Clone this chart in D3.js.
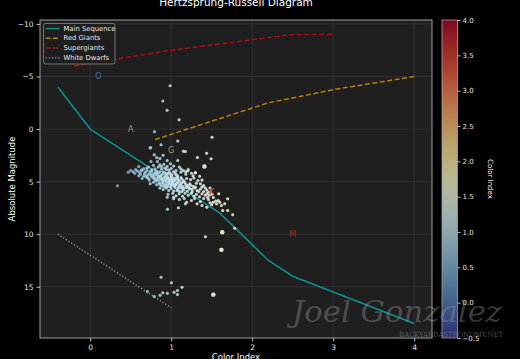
<!DOCTYPE html>
<html><head><meta charset="utf-8">
<script src="https://cdn.jsdelivr.net/npm/d3@7"></script>
<style>html,body{margin:0;padding:0;background:#000;}svg{display:block;}</style>
</head><body>
<script>
// ---- data ----
const msColor = [-0.4, 0.0, 1.6, 2.2, 2.5, 4.0];
const msMag   = [-4, 0, 8, 12.5, 14, 18.5];
const rgColor = [0.8, 2.2, 3.0, 4.0];
const rgMag   = [1, -2.5, -3.75, -5];
const sgColor = [-0.2, 1.0, 2.0, 2.5, 3.0];
const sgMag   = [-6, -7.5, -8.5, -9, -9];
const wdColor = [-0.4, 1.0];
const wdMag   = [10, 17];
const classLabels = ["O", "A", "G", "K", "M"];
const classColor  = [0.1, 0.5, 1.0, 1.5, 2.5];
const classMag    = [-5, 0, 2, 6, 10];
const classFill   = ["#3f6fb5", "#9a9a9a", "#a59d6c", "#c87a45", "#a52a2a"];
const xTicks = [0, 1, 2, 3, 4];
const yTicks = [-10, -5, 0, 5, 10, 15];
const cbTicks = [-0.5, 0, 0.5, 1, 1.5, 2, 2.5, 3, 3.5, 4];
const bigStars = [[1.41,3.56],[1.63,9.81],[1.52,15.75],[1.62,11.49]];
const stars = [
 // outliers / upper
 [0.986,-4.13],[0.896,-2.67],[0.949,-1.78],[1.097,-0.89],[0.793,0.25],[1.081,1.14],[0.875,1.49],[0.744,1.75],
 [1.504,0.79],[1.175,2.13],[1.323,2.70],[1.438,2.29],[1.492,2.83],[0.337,5.40],[1.204,4.0],[1.295,4.16],
 [0.74,1.81],[0.79,2.44],[0.90,2.50],[1.15,2.12],[1.08,2.98],
 // lower right
 [1.587,6.16],[1.697,6.63],[1.697,7.75],[1.759,8.16],[1.636,7.75],[1.784,9.43],[1.422,10.25],[1.619,11.49],
 [0.954,7.62],[1.089,7.49],[1.175,7.11],
 // white dwarf group
 [0.875,14.10],[1.003,14.63],[1.134,15.05],[1.077,15.36],[1.036,15.52],[1.077,15.74],[0.953,15.62],[0.896,15.58],[0.863,15.81],[0.707,15.46],[0.79,15.93],
 // cluster rows
 [0.75,3.08],[0.83,3.08],[0.99,3.30],[1.03,3.52],[1.10,3.62],[1.15,3.93],[1.21,3.84],[0.72,3.62],[0.66,3.77],[0.80,3.77],[0.82,2.7],[0.86,2.8],[0.95,3.0],
 [0.50,3.94],[0.56,3.84],[0.60,3.56],[0.63,3.9],[0.70,3.7],[0.76,3.85],[0.84,3.6],[0.88,3.8],[0.92,3.7],[0.97,3.9],[0.78,3.45],[0.86,3.4],[0.95,3.55],
 [0.55,4.2],[0.62,4.3],[0.68,4.1],[0.71,4.4],[0.74,4.05],[0.77,4.3],[0.80,4.15],[0.83,4.4],[0.86,4.05],[0.89,4.3],[0.92,4.15],[0.95,4.45],[0.98,4.1],[1.01,4.35],[1.05,4.2],[1.08,4.45],[1.12,4.1],[1.18,4.3],[1.25,4.2],[1.30,4.16],[0.66,4.5],[0.82,4.0],[0.94,4.25],[1.0,4.5],
 [0.64,4.7],[0.70,4.6],[0.73,4.85],[0.76,4.55],[0.79,4.75],[0.81,4.95],[0.84,4.6],[0.86,4.85],[0.88,4.7],[0.90,4.95],[0.92,4.55],[0.94,4.8],[0.96,4.65],[0.98,4.9],[1.00,4.6],[1.02,4.8],[1.04,4.95],[1.06,4.7],[1.09,4.85],[1.12,4.6],[1.15,4.9],[1.19,4.7],[1.24,4.8],[1.28,4.65],[1.33,4.9],[0.85,4.52],[0.97,4.75],[1.07,4.55],
 [0.74,5.2],[0.78,5.05],[0.82,5.3],[0.85,5.1],[0.88,5.4],[0.90,5.15],[0.92,5.3],[0.94,5.05],[0.96,5.45],[0.98,5.2],[1.00,5.35],[1.02,5.1],[1.04,5.45],[1.06,5.25],[1.08,5.05],[1.10,5.4],[1.12,5.2],[1.14,5.45],[1.17,5.1],[1.20,5.35],[1.23,5.2],[1.27,5.45],[1.31,5.15],[1.36,5.2],[1.40,5.37],[0.93,5.5],[1.01,5.0],[1.05,5.3],
 [0.86,5.6],[0.90,5.75],[0.94,5.6],[0.97,5.85],[1.00,5.65],[1.03,5.9],[1.05,5.55],[1.08,5.75],[1.10,5.95],[1.12,5.6],[1.15,5.8],[1.18,5.55],[1.20,5.9],[1.23,5.7],[1.26,5.95],[1.29,5.6],[1.32,5.85],[1.36,5.7],[1.40,5.95],[1.44,5.8],[1.46,6.0],[1.07,5.85],[1.13,5.95],[1.22,5.6],
 [0.96,6.2],[1.02,6.1],[1.06,6.35],[1.10,6.15],[1.14,6.4],[1.17,6.1],[1.21,6.3],[1.25,6.1],[1.28,6.4],[1.31,6.2],[1.35,6.45],[1.38,6.15],[1.42,6.3],[1.44,6.16],[1.03,6.48],[0.95,6.48],
 [1.03,6.63],[1.10,6.7],[1.19,6.95],[1.25,6.8],[1.32,7.1],[1.29,6.6],[1.36,6.9],[1.40,6.6],[1.16,6.6],
 [1.38,7.27],[1.44,7.43],[1.48,7.0],[1.52,6.95],[1.56,7.1],[1.58,6.8],[1.60,6.95],[1.62,7.27],[1.55,6.85],[1.50,7.2],[1.46,6.7],[1.66,7.1],
 // denser core
 [0.70,3.95],[0.73,4.2],[0.76,4.0],[0.79,4.45],[0.81,4.25],[0.84,4.15],[0.87,4.45],[0.90,4.05],[0.93,4.4],[0.96,4.2],[0.99,4.3],[1.03,4.05],[1.06,4.35],
 [0.78,4.6],[0.81,4.7],[0.83,4.85],[0.87,4.6],[0.89,4.8],[0.91,4.7],[0.93,4.9],[0.95,4.6],[0.97,5.0],[0.99,4.75],[1.01,4.9],[1.03,4.65],[1.05,4.85],[1.08,4.65],[1.10,4.95],[1.13,4.75],[1.16,5.0],
 [0.86,5.25],[0.89,5.05],[0.91,5.45],[0.95,5.3],[0.97,5.1],[0.99,5.5],[1.01,5.25],[1.03,5.35],[1.07,5.15],[1.09,5.55],[1.11,5.3],[1.13,5.1],[1.15,5.6],[1.18,5.3],[1.21,5.5],[1.24,5.35],[1.26,5.7],[1.30,5.5],[1.34,5.95],[1.38,5.5],[1.42,5.6],
 [1.47,6.3],[1.50,6.2],[1.45,6.5],[1.48,5.6],[1.52,6.5],
 [0.58,4.0],[0.61,4.1],[0.64,3.95],[0.67,4.25],[0.69,4.5],[0.72,4.7],[0.75,4.4],[0.60,4.45],[0.53,4.05],[0.47,4.1],
 [0.88,3.55],[0.91,3.35],[0.94,3.85],[1.0,3.75],[1.06,3.95],[1.12,3.8],[1.18,4.05],[1.35,4.5],[1.38,4.85],[1.27,4.45]
];

// ---- layout ----
const W = 520, H = 359;
const L = 40, R = 432, T = 20, B = 338;
const svg = d3.select("body").append("svg").attr("width", W).attr("height", H)
  .style("font-family", "'DejaVu Sans', sans-serif");
svg.append("rect").attr("width", W).attr("height", H).attr("fill", "#000");

const x = d3.scaleLinear().domain([-0.62, 4.22]).range([L, R]);
const y = d3.scaleLinear().domain([-10.375, 19.875]).range([T, B]);
const cmap = t => d3.interpolateRdYlBu(1 - t);
const cNorm = d3.scaleLinear().domain([-0.5, 4.0]).range([0, 1]).clamp(true);

const defs = svg.append("defs");
defs.append("clipPath").attr("id", "clip").append("rect")
  .attr("x", L).attr("y", T).attr("width", R - L).attr("height", B - T);

svg.append("rect").attr("x", L).attr("y", T).attr("width", R - L).attr("height", B - T).attr("fill", "#1f1f1f");

// grid
const grid = svg.append("g");
grid.selectAll(".gx").data(xTicks).join("line")
  .attr("x1", d => x(d)).attr("x2", d => x(d)).attr("y1", T).attr("y2", B)
  .attr("stroke", "#3a3a3a").attr("stroke-width", 0.7);
grid.selectAll(".gy").data(yTicks).join("line")
  .attr("y1", d => y(d)).attr("y2", d => y(d)).attr("x1", L).attr("x2", R)
  .attr("stroke", "#3a3a3a").attr("stroke-width", 0.7);

const plot = svg.append("g").attr("clip-path", "url(#clip)");
const line = d3.line().x(d => x(d[0])).y(d => y(d[1]));
const zip = (a, b) => a.map((v, i) => [v, b[i]]);

plot.append("path").datum(zip(msColor, msMag)).attr("d", line)
  .attr("fill", "none").attr("stroke", "#0b9090").attr("stroke-width", 1.5);
plot.append("path").datum(zip(rgColor, rgMag)).attr("d", line)
  .attr("fill", "none").attr("stroke", "#bb7c0c").attr("stroke-width", 1.5).attr("stroke-dasharray", "5,2.5");
plot.append("path").datum(zip(sgColor, sgMag)).attr("d", line)
  .attr("fill", "none").attr("stroke", "#b01010").attr("stroke-width", 1.5).attr("stroke-dasharray", "5,2.5");
plot.append("path").datum(zip(wdColor, wdMag)).attr("d", line)
  .attr("fill", "none").attr("stroke", "#8aa6b4").attr("stroke-width", 1.3).attr("stroke-dasharray", "1.2,2");

plot.selectAll(".star").data(stars).join("circle")
  .attr("cx", d => x(d[0])).attr("cy", d => y(d[1])).attr("r", 1.5)
  .attr("fill", d => cmap(cNorm(d[0]))).attr("fill-opacity", 0.85)
  .attr("stroke", "#ffffff").attr("stroke-opacity", 0.35).attr("stroke-width", 0.3);
plot.selectAll(".big").data(bigStars).join("circle")
  .attr("cx", d => x(d[0])).attr("cy", d => y(d[1])).attr("r", 2.2)
  .attr("fill", d => cmap(cNorm(d[0]))).attr("fill-opacity", 0.9)
  .attr("stroke", "#ffffff").attr("stroke-opacity", 0.4).attr("stroke-width", 0.3);

// class labels
plot.selectAll(".cls").data(classLabels).join("text")
  .attr("x", (d, i) => x(classColor[i])).attr("y", (d, i) => y(classMag[i]))
  .attr("text-anchor", "middle").attr("dominant-baseline", "central")
  .attr("font-size", 8).attr("fill", (d, i) => classFill[i]).text(d => d);

// frame
svg.append("rect").attr("x", L).attr("y", T).attr("width", R - L).attr("height", B - T)
  .attr("fill", "none").attr("stroke", "#a0a0a0").attr("stroke-width", 1);

// axes
const xAxis = svg.append("g").attr("transform", `translate(0,${B})`)
  .call(d3.axisBottom(x).tickValues(xTicks).tickSize(3.5).tickPadding(3).tickFormat(d3.format("d")));
const yAxis = svg.append("g").attr("transform", `translate(${L},0)`)
  .call(d3.axisLeft(y).tickValues(yTicks).tickSize(3.5).tickPadding(3).tickFormat(d => d < 0 ? "\u2212" + Math.abs(d) : d));
[xAxis, yAxis].forEach(g => {
  g.select(".domain").remove();
  g.selectAll("line").attr("stroke", "#bbbbbb");
  g.selectAll("text").attr("fill", "#e0e0e0").attr("font-size", 7.5).attr("font-family", "'DejaVu Sans', sans-serif");
});

// titles
svg.append("text").attr("x", (L + R) / 2).attr("y", 6).attr("text-anchor", "middle")
  .attr("fill", "#ffffff").attr("font-size", 10.5).text("Hertzsprung-Russell Diagram");
svg.append("text").attr("x", (L + R) / 2).attr("y", 360).attr("text-anchor", "middle")
  .attr("fill", "#ffffff").attr("font-size", 8.5).text("Color Index");
svg.append("text").attr("transform", `translate(15,${(T + B) / 2}) rotate(-90)`).attr("text-anchor", "middle")
  .attr("fill", "#ffffff").attr("font-size", 8.5).text("Absolute Magnitude");

// legend
const lg = svg.append("g").attr("transform", "translate(43.5,23.5)");
lg.append("rect").attr("width", 71.5).attr("height", 40.5).attr("rx", 2)
  .attr("fill", "#1f1f1f").attr("fill-opacity", 0.85).attr("stroke", "#888888").attr("stroke-width", 0.8);
const legendItems = [
  {name: "Main Sequence", color: "#0b9090", dash: null, w: 1.5},
  {name: "Red Giants", color: "#bb7c0c", dash: "5,2.5", w: 1.5},
  {name: "Supergiants", color: "#b01010", dash: "5,2.5", w: 1.5},
  {name: "White Dwarfs", color: "#8aa6b4", dash: "1.2,2", w: 1.3}
];
legendItems.forEach((it, i) => {
  const yy = 5 + i * 9.8;
  lg.append("line").attr("x1", 2).attr("x2", 16).attr("y1", yy).attr("y2", yy)
    .attr("stroke", it.color).attr("stroke-width", it.w).attr("stroke-dasharray", it.dash);
  lg.append("text").attr("x", 20).attr("y", yy).attr("dominant-baseline", "central")
    .attr("fill", "#e8e8e8").attr("font-size", 6.8).text(it.name);
});

// colorbar
const cbL = 442, cbW = 15.5;
const grad = defs.append("linearGradient").attr("id", "cbg").attr("x1", 0).attr("y1", 1).attr("x2", 0).attr("y2", 0);
d3.range(0, 1.0001, 0.05).forEach(t => grad.append("stop").attr("offset", t).attr("stop-color", cmap(t)));
svg.append("rect").attr("x", cbL).attr("y", T).attr("width", cbW).attr("height", B - T).attr("fill", "#1f1f1f");
svg.append("rect").attr("x", cbL).attr("y", T).attr("width", cbW).attr("height", B - T)
  .attr("fill", "url(#cbg)").attr("opacity", 0.7);
svg.append("rect").attr("x", cbL).attr("y", T).attr("width", cbW).attr("height", B - T)
  .attr("fill", "none").attr("stroke", "#a0a0a0").attr("stroke-width", 0.8);
const cy = d3.scaleLinear().domain([-0.5, 4.0]).range([B, T]);
const cbAxis = svg.append("g").attr("transform", `translate(${cbL + cbW},0)`)
  .call(d3.axisRight(cy).tickValues(cbTicks).tickSize(3).tickPadding(2)
    .tickFormat(d => d < 0 ? "\u2212" + Math.abs(d).toFixed(1) : d.toFixed(1)));
cbAxis.select(".domain").remove();
cbAxis.selectAll("line").attr("stroke", "#bbbbbb");
cbAxis.selectAll("text").attr("fill", "#e0e0e0").attr("font-size", 7).attr("font-family", "'DejaVu Sans', sans-serif");
svg.append("text").attr("transform", `translate(488,${(T + B) / 2}) rotate(90)`).attr("text-anchor", "middle")
  .attr("fill", "#ffffff").attr("font-size", 7).text("Color Index");

// watermark
svg.append("text").attr("x", 292).attr("y", 322).attr("fill", "#9a9a9a").attr("fill-opacity", 0.4)
  .attr("font-family", "'DejaVu Serif', serif").attr("font-style", "italic").attr("font-size", 30)
  .attr("textLength", 210).attr("lengthAdjust", "spacingAndGlyphs")
  .text("Joel Gonzalez");
svg.append("text").attr("x", 399).attr("y", 337).attr("fill", "#8a8a8a").attr("fill-opacity", 0.6)
  .attr("font-family", "'DejaVu Serif', serif").attr("font-size", 7.2)
  .attr("textLength", 104).attr("lengthAdjust", "spacingAndGlyphs")
  .text("BACKYARDASTRONOMY.NET");
</script>
</body></html>
